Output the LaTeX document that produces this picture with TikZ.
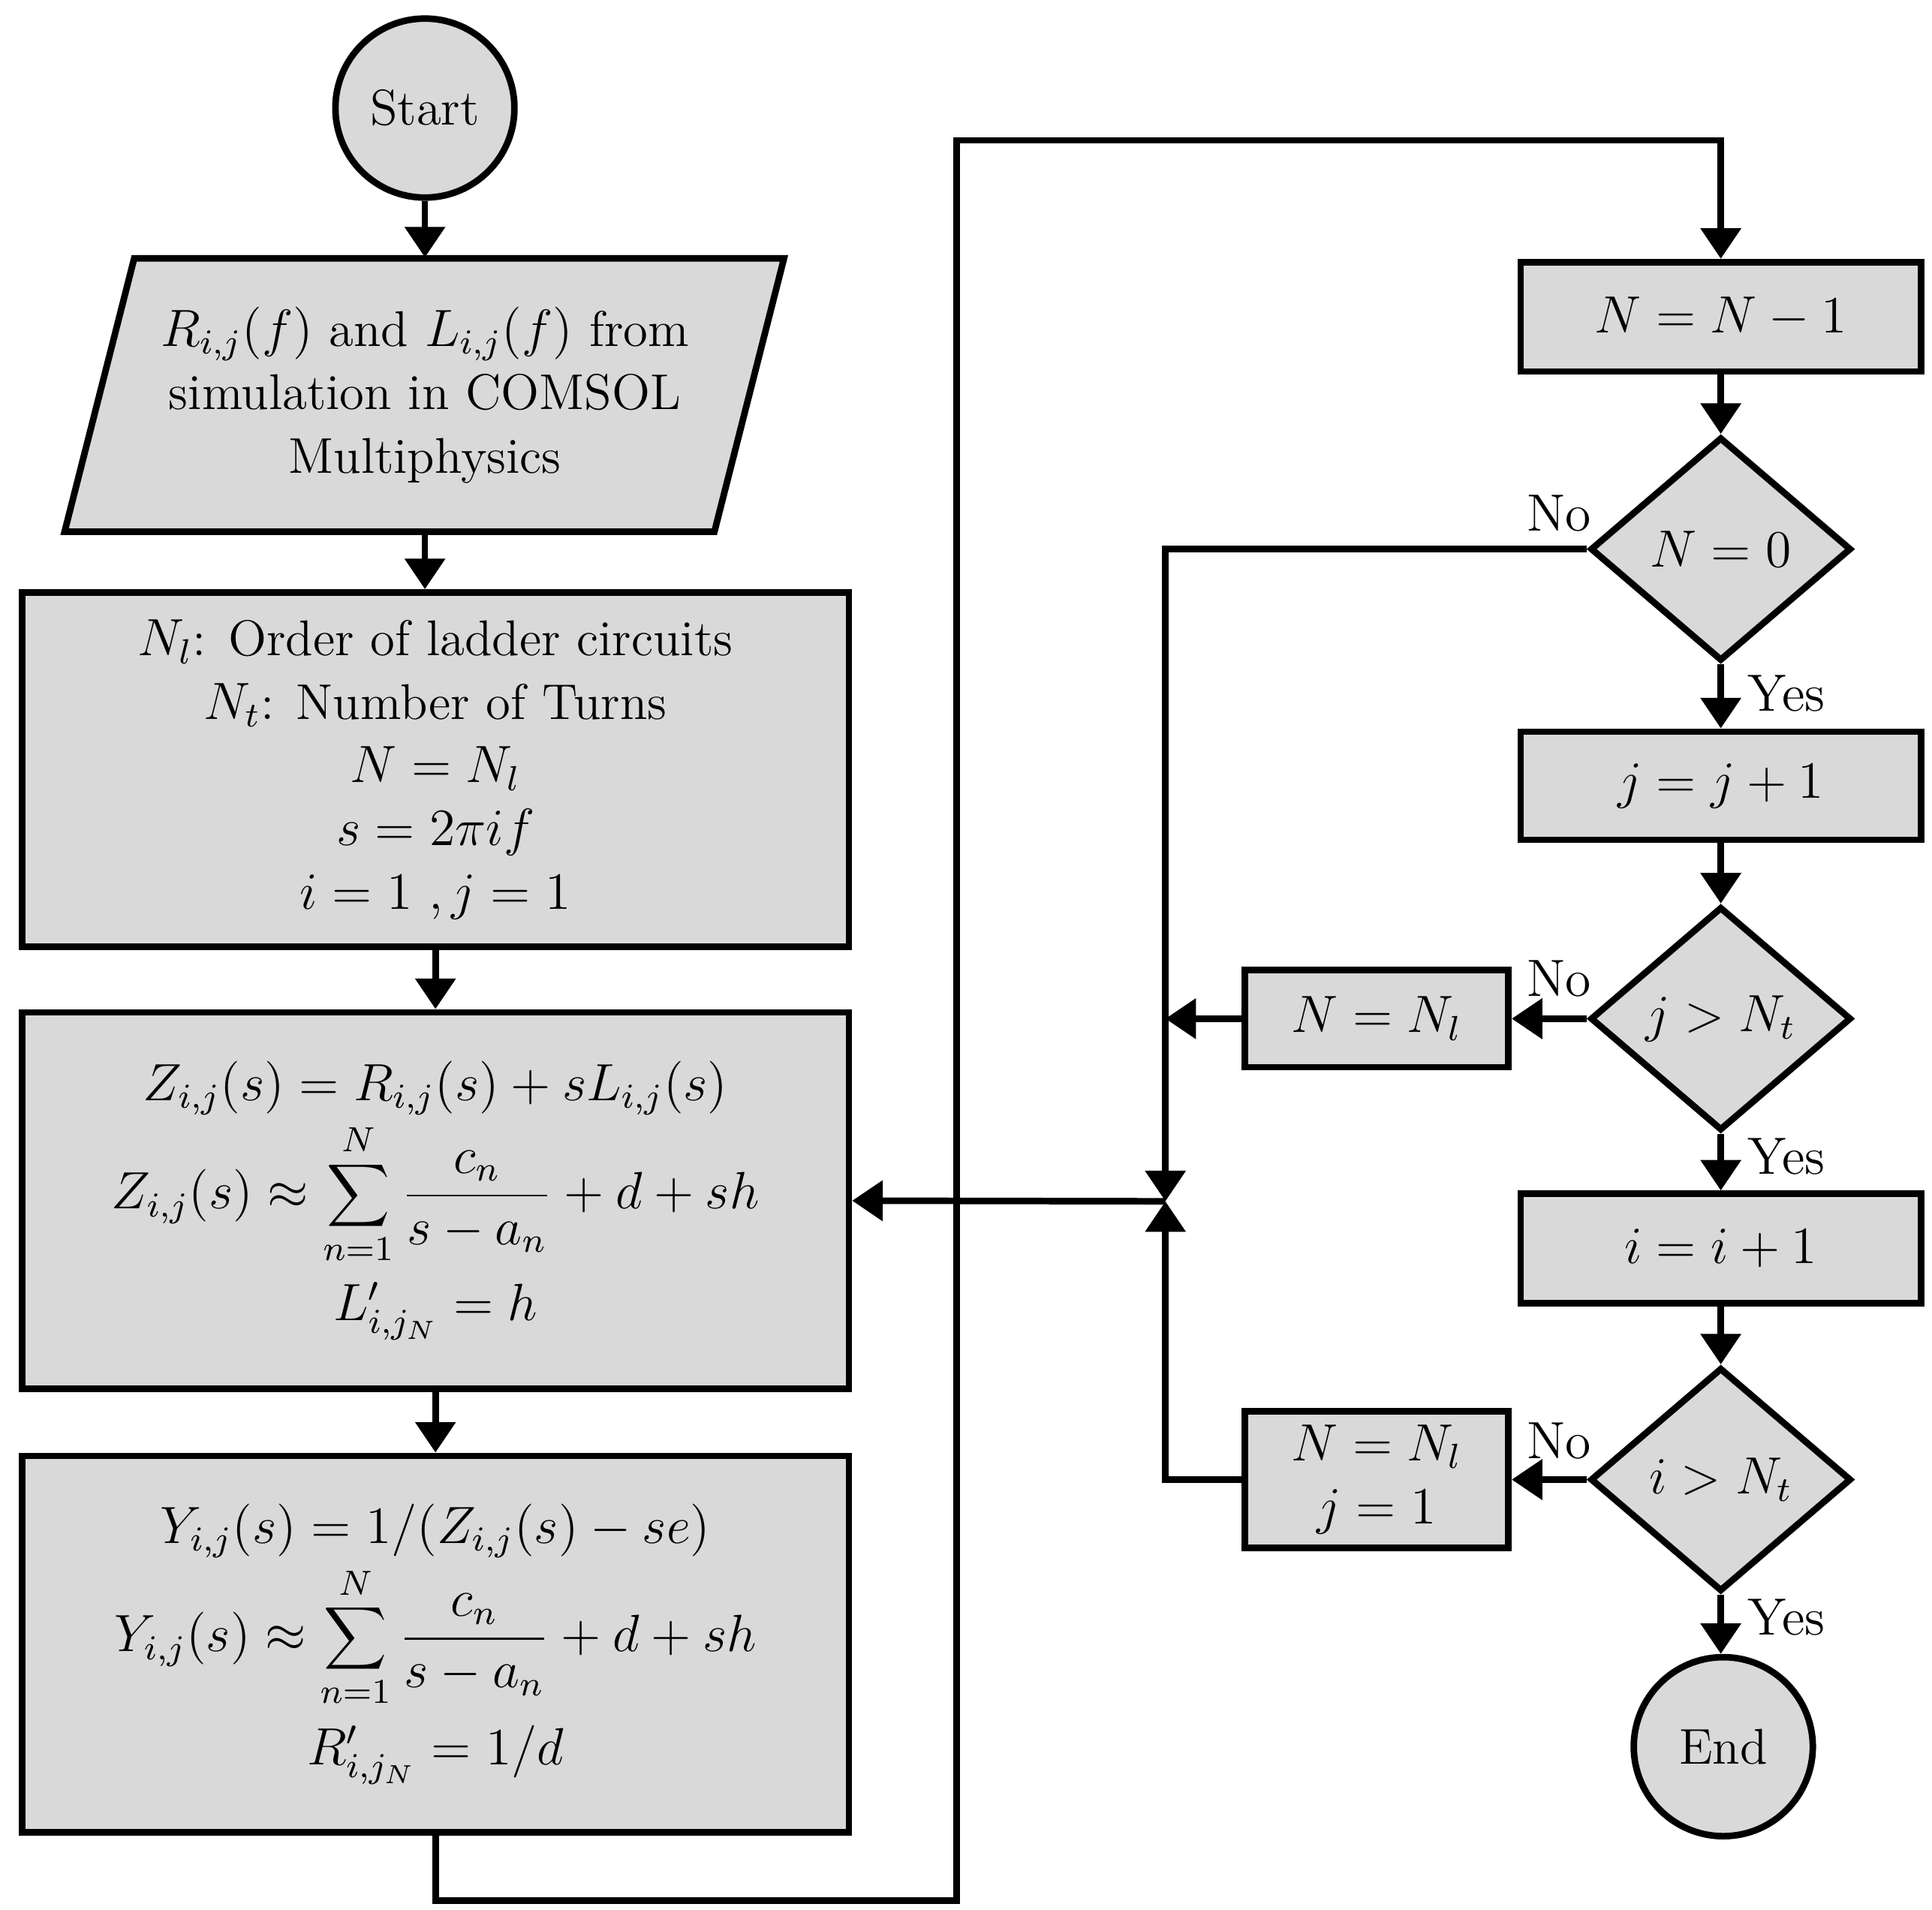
\documentclass[tikz,border=0pt]{standalone}
\usetikzlibrary{shapes.geometric,arrows.meta}
\begin{document}
\begin{tikzpicture}[x=0.01cm,y=-0.01cm,
  every node/.style={font=\fontsize{11.5}{14.5}\selectfont},
  ln/.style={line width=1.5pt},
  ar/.style={line width=1.5pt,-{Triangle[length=7pt,width=9pt]}},
  box/.style={draw,line width=1.5pt,fill=gray!30,rectangle,align=center,inner sep=2pt},
  dia/.style={draw,line width=1.5pt,fill=gray!30,diamond,aspect=1.17,minimum width=2.1cm,minimum height=1.8cm,inner sep=0pt},
  circ/.style={draw,line width=1.5pt,fill=gray!30,circle,minimum size=1.44cm,inner sep=0pt},
  lab/.style={font=\fontsize{12}{15}\selectfont}]
\useasboundingbox (0,0) rectangle (1555,1537);
\node[circ] (start) at (342,87) {Start};
\filldraw[ln,fill=gray!30] (108,208)--(631,208)--(575,428)--(52,428)--cycle;
\node[align=center,minimum height=2.2cm,inner sep=0pt] (p) at (342,318) {$R_{i,j}(f)$ and $L_{i,j}(f)$ from\\simulation in COMSOL\\Multiphysics};
\node[box,minimum width=6.65cm,minimum height=2.85cm] (b1) at (350.5,619.5) {$N_l$: Order of ladder circuits\\$N_t$: Number of Turns\\$N=N_l$\\$s=2\pi i f$\\$i=1\ ,j=1$};
\node[box,minimum width=6.65cm,minimum height=3.03cm] (b2) at (350.5,966.5) {$Z_{i,j}(s)=R_{i,j}(s)+sL_{i,j}(s)$\\[1pt]$\displaystyle Z_{i,j}(s)\approx\sum_{n=1}^{N}\frac{c_n}{s-a_n}+d+sh$\\[3pt]$L'_{i,j_N}=h$};
\node[box,minimum width=6.65cm,minimum height=3.03cm] (b3) at (350.5,1323.5) {$Y_{i,j}(s)=1/(Z_{i,j}(s)-se)$\\[1pt]$\displaystyle Y_{i,j}(s)\approx\sum_{n=1}^{N}\frac{c_n}{s-a_n}+d+sh$\\[3pt]$R'_{i,j_N}=1/d$};
\node[box,minimum width=3.22cm,minimum height=0.88cm] (r1) at (1385,255) {$N=N-1$};
\node[dia] (d1) at (1385,442) {$N=0$};
\node[box,minimum width=3.22cm,minimum height=0.87cm] (r2) at (1385,632.5) {$j=j+1$};
\node[dia] (d2) at (1385,820) {$j>N_t$};
\node[box,minimum width=3.22cm,minimum height=0.88cm] (r3) at (1385,1005) {$i=i+1$};
\node[dia] (d3) at (1385,1191) {$i>N_t$};
\node[circ] (end) at (1387,1406) {End};
\node[box,minimum width=2.12cm,minimum height=0.78cm] (n1) at (1108,820) {$N=N_l$};
\node[box,minimum width=2.12cm,minimum height=1.1cm] (n2) at (1108,1191) {$N=N_l$\\$j=1$};
\coordinate (J) at (938,967);
\coordinate (L1) at (350.5,1530);
\coordinate (L2) at (770,1530);
\coordinate (L3) at (770,113);
\coordinate (L4) at (1385,113);
\draw[ar] (start) -- (p.north);
\draw[ar] (p.south) -- (p.south |- b1.north);
\draw[ar] (b1) -- (b2);
\draw[ar] (b2) -- (b3);
\draw[ar] (b3.south) -- (L1) -- (L2) -- (L3) -- (L4) -- (r1.north);
\draw[ar] (r1) -- (d1);
\draw[ar] (d1) -- (r2);
\draw[ar] (r2) -- (d2);
\draw[ar] (d2) -- (r3);
\draw[ar] (r3) -- (d3);
\draw[ar] (d3) -- (d3 |- end.north);
\draw[ar] (d2.west) -- (n1.east);
\draw[ar] (d3.west) -- (n2.east);
\draw[ar] (d1.west) -- (d1.west -| J) -- (J);
\draw[ar] (n1.west) -- (n1.west -| J);
\draw[ar] (n2.west) -- (n2.west -| J) -- (J);
\draw[ar] (J) -- (b2.east);
\node[lab] at (1255,413) {No};
\node[lab] at (1438,558) {Yes};
\node[lab] at (1255,788) {No};
\node[lab] at (1438,931) {Yes};
\node[lab] at (1255,1160) {No};
\node[lab] at (1438,1302) {Yes};
\end{tikzpicture}
\end{document}
